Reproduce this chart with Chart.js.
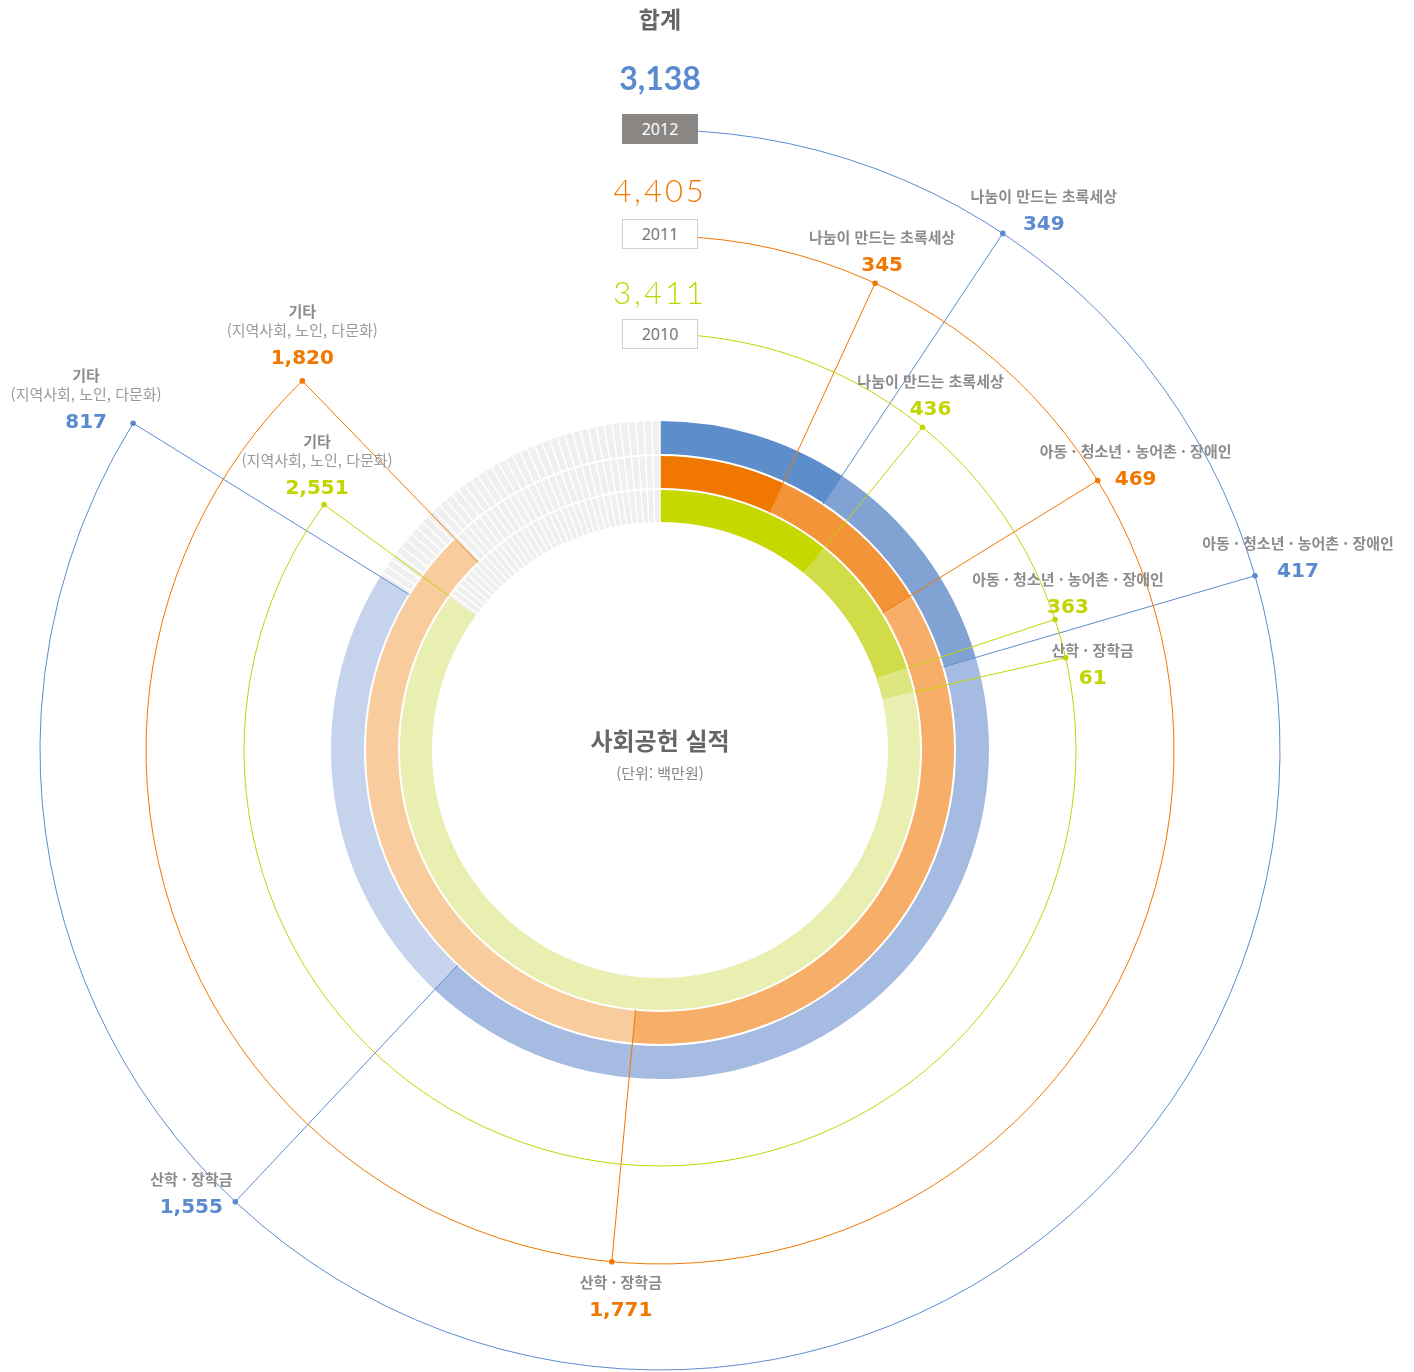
<!DOCTYPE html>
<html lang="ko">
<head>
<meta charset="utf-8">
<title>사회공헌 실적</title>
<script src="https://cdn.jsdelivr.net/npm/chart.js@4.4.1/dist/chart.umd.min.js"></script>
<style>
  html, body { margin: 0; padding: 0; background: #fff; }
  #wrap { position: relative; width: 1414px; height: 1372px; overflow: hidden;
          font-family: "Noto Sans CJK KR", "Noto Sans", sans-serif; }
  #chart { position: absolute; left: 0; top: 0; }
  .t { position: absolute; transform: translateX(-50%); white-space: nowrap; text-align: center; }
  .head { font-size: 23px; font-weight: 700; color: #666; line-height: 30px; }
  .total { font-family: Lato, "Noto Sans", sans-serif; line-height: 40px; }
  .total.bold { font-size: 32px; font-weight: 700; }
  .total.light { font-size: 31px; font-weight: 300; letter-spacing: 3px; }
  .year { width: 74px; height: 28px; line-height: 28px; font-size: 16px;
          font-family: "Noto Sans", sans-serif; border: 1px solid #cfcfcf; color: #777; background: #fff; }
  .year.on { background: #8a8683; border-color: #8a8683; color: #fff; }
  .ctitle { font-size: 24px; font-weight: 700; color: #666; line-height: 30px; }
  .cunit { font-size: 15px; color: #888; line-height: 20px; }
  .lab { position: absolute; transform: translateX(-50%); white-space: nowrap; text-align: center; }
  .lab .nm { font-size: 15px; font-weight: 700; color: #8c8c8c; line-height: 19px; }
  .lab .sub { font-size: 15px; font-weight: 400; color: #999; line-height: 19px; }
  .lab .val { font-family: "DejaVu Sans", Lato, sans-serif; font-size: 20px; font-weight: 700;
              line-height: 26px; margin-top: 5px; }
</style>
</head>
<body>
<div id="wrap">
  <canvas id="chart" width="1414" height="1372"></canvas>
</div>
<script>
// 연도별 링 (바깥쪽부터 2012, 2011, 2010)
const years = ["2012", "2011", "2010"];
const totals = [3138, 4405, 3411];
const categories = ["나눔이 만드는 초록세상", "아동 · 청소년 · 농어촌 · 장애인", "산학 · 장학금", "기타"];
const subLabel = "(지역사회, 노인, 다문화)";
const values2012 = [349, 417, 1555, 817];
const values2011 = [345, 469, 1771, 1820];
const values2010 = [436, 363, 61, 2551];
const blank = [605, 615, 600]; // 회색 빈 영역

const ringColors = [
    ["#5e8dcb", "#81a3d4", "#a6bbe1", "#c5d3ec", "#efefef"],
    ["#f07800", "#f29437", "#f6ae69", "#f9cc9d", "#efefef"],
    ["#c5d800", "#d0dd48", "#dee681", "#e8efb1", "#efefef"],
];
const lineColors = ["#5b8bcf", "#f07800", "#c2d500"];
const circleRadius = [620, 514, 416];
const lineEndRadius = [295, 261, 261];
// 라벨 위치 (점 기준 이름 줄 중심)
const labelOffsets = [
    [[41, -38], [43, -33], [-44, -23], [-47, -49]],
    [[7, -47], [38, -30], [9, 20], [0, -70]],
    [[8, -47], [13, -41], [27, -8], [-7, -64]],
];

const wrap = document.getElementById("wrap");
const fmt = (n) => n.toLocaleString("en-US");

function addText(cls, text, x, y, color) {
    const el = document.createElement("div");
    el.className = "t " + cls;
    el.textContent = text;
    el.style.left = x + "px";
    el.style.top = y + "px";
    if (color) el.style.color = color;
    wrap.appendChild(el);
    return el;
}

// 상단 합계
addText("head", "합계", 660, 3);
const totalTops = [58, 170, 272];
const yearTops = [114, 219, 319];
years.forEach((y, i) => {
    addText("total " + (i === 0 ? "bold" : "light"), fmt(totals[i]), 660, totalTops[i], lineColors[i]);
    addText("year" + (i === 0 ? " on" : ""), y, 660, yearTops[i]);
});
addText("ctitle", "사회공헌 실적", 660, 725);
addText("cunit", "(단위: 백만원)", 660, 763);

const leaderPlugin = {
    id: "leaders",
    afterDatasetsDraw(chart) {
        const ctx = chart.ctx;
        ctx.save();
        chart.data.datasets.forEach((ds, i) => {
            const arcs = chart.getDatasetMeta(i).data;
            const gray = arcs[4];
            const { x: cx, y: cy } = gray;
            // 빈 영역 줄무늬
            ctx.strokeStyle = "#ffffff";
            ctx.lineWidth = 1.5;
            const step = 1.4 * Math.PI / 180;
            for (let a = gray.endAngle; a > gray.startAngle; a -= step) {
                ctx.beginPath();
                ctx.moveTo(cx + gray.innerRadius * Math.cos(a), cy + gray.innerRadius * Math.sin(a));
                ctx.lineTo(cx + gray.outerRadius * Math.cos(a), cy + gray.outerRadius * Math.sin(a));
                ctx.stroke();
            }
            // 링 구분선
            ctx.lineWidth = 2;
            ctx.beginPath();
            ctx.arc(cx, cy, gray.innerRadius, 0, Math.PI * 2);
            ctx.stroke();
        });

        chart.data.datasets.forEach((ds, i) => {
            const arcs = chart.getDatasetMeta(i).data;
            const { x: cx, y: cy } = arcs[0];
            const R = circleRadius[i];
            ctx.strokeStyle = lineColors[i];
            ctx.fillStyle = lineColors[i];
            ctx.lineWidth = 1;
            // 큰 원호 (연도 박스에서 시작)
            ctx.beginPath();
            ctx.arc(cx, cy, R, -Math.PI / 2 + Math.asin(38 / R), arcs[3].endAngle);
            ctx.stroke();
            for (let k = 0; k < 4; k++) {
                const a = arcs[k].endAngle;
                const px = cx + R * Math.cos(a), py = cy + R * Math.sin(a);
                ctx.beginPath();
                ctx.moveTo(cx + lineEndRadius[i] * Math.cos(a), cy + lineEndRadius[i] * Math.sin(a));
                ctx.lineTo(px, py);
                ctx.stroke();
                ctx.beginPath();
                ctx.arc(px, py, 2.8, 0, Math.PI * 2);
                ctx.fill();
            }
        });
        ctx.restore();
    },
    afterDraw(chart) {
        if (chart._labelsDone) return;
        chart._labelsDone = true;
        chart.data.datasets.forEach((ds, i) => {
            const arcs = chart.getDatasetMeta(i).data;
            const { x: cx, y: cy } = arcs[0];
            const R = circleRadius[i];
            for (let k = 0; k < 4; k++) {
                const a = arcs[k].endAngle;
                const px = cx + R * Math.cos(a), py = cy + R * Math.sin(a);
                const el = document.createElement("div");
                el.className = "lab";
                el.style.left = (px + labelOffsets[i][k][0]) + "px";
                el.style.top = (py + labelOffsets[i][k][1] - 9.5) + "px";
                const nm = document.createElement("div");
                nm.className = "nm";
                nm.textContent = categories[k];
                el.appendChild(nm);
                if (k === 3) {
                    const sub = document.createElement("div");
                    sub.className = "sub";
                    sub.textContent = subLabel;
                    el.appendChild(sub);
                }
                const val = document.createElement("div");
                val.className = "val";
                val.style.color = lineColors[i];
                val.textContent = fmt(ds.data[k]);
                el.appendChild(val);
                wrap.appendChild(el);
            }
        });
    },
};

new Chart(document.getElementById("chart").getContext("2d"), {
    type: "doughnut",
    data: {
        labels: [...categories, ""],
        datasets: [
            { label: years[0], data: [...values2012, blank[0]], backgroundColor: ringColors[0] },
            { label: years[1], data: [...values2011, blank[1]], backgroundColor: ringColors[1] },
            { label: years[2], data: [...values2010, blank[2]], backgroundColor: ringColors[2] },
        ],
    },
    options: {
        responsive: false,
        animation: false,
        radius: 329,
        cutout: "69%",
        borderWidth: 0,
        layout: { padding: { left: 0, right: 94, top: 128, bottom: 0 } },
        plugins: { legend: { display: false }, tooltip: { enabled: false } },
        events: [],
    },
    plugins: [leaderPlugin],
});
</script>
</body>
</html>
